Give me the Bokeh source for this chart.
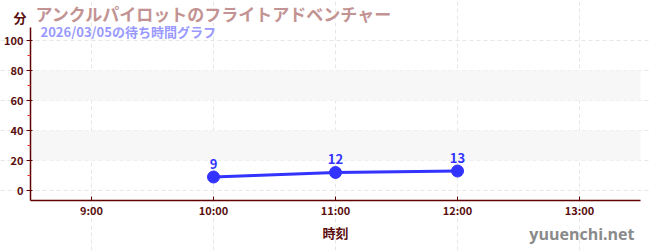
from bokeh.plotting import figure
from bokeh.models import Range1d, FixedTicker, Label, BoxAnnotation, ColumnDataSource
from bokeh.core.properties import value
from bokeh.embed import file_html
from bokeh.resources import INLINE

# data
hours = [10, 11, 12]
waits = [9, 12, 13]
x_ticks = [9, 10, 11, 12, 13]
x_tick_labels = ["9:00", "10:00", "11:00", "12:00", "13:00"]
y_ticks = [0, 20, 40, 60, 80, 100]
y_minor = [10, 30, 50, 70, 90]
bands = [(20, 40), (60, 80)]
title_text = "アンクルパイロットのフライトアドベンチャー"
subtitle_text = "2026/03/05の待ち時間グラフ"
unit_text = "分"
xlabel_text = "時刻"
mark_text = "yuuenchi.net"

FONT = "Noto Sans CJK JP"
MAROON = "#5a0f0f"
AXIS = "#600000"

# plot area spans x 8.5..13.5 and y -6.67..106.67; the frame covers the whole canvas
X0, X1 = 8.5, 13.5
Y0, Y1 = -6.667, 106.667
pxx = 122.0   # px per hour
pxy = 1.5     # px per minute
p = figure(width=650, height=250, output_backend="svg", toolbar_location=None,
           x_range=Range1d(X0 - 30 / pxx, X1 + 10 / pxx),
           y_range=Range1d(Y0 - 50 / pxy, Y1 + 30 / pxy),
           min_border=0, min_border_left=0, min_border_right=0,
           min_border_top=0, min_border_bottom=0)
p.outline_line_color = None
p.background_fill_color = "white"
p.border_fill_color = "white"

for lo, hi in bands:
    p.add_layout(BoxAnnotation(left=X0, right=X1, bottom=lo, top=hi, fill_color="#f7f7f7",
                               fill_alpha=1.0, line_color=None, level="underlay"))

p.xgrid.ticker = FixedTicker(ticks=x_ticks)
p.ygrid.ticker = FixedTicker(ticks=y_ticks)
p.xgrid.bounds = (Y0, Y1)
p.ygrid.bounds = (X0, X1)
for g in (p.xgrid, p.ygrid):
    g.grid_line_color = "#e6e6e6"
    g.grid_line_dash = "4 3"
    g.grid_line_width = 1

xa = p.xaxis[0]
xa.fixed_location = Y0
xa.bounds = (X0, X1)
xa.ticker = FixedTicker(ticks=x_ticks)
xa.major_label_overrides = {t: l for t, l in zip(x_ticks, x_tick_labels)}
xa.axis_label = xlabel_text
xa.axis_label_text_font = FONT
xa.axis_label_text_font_style = "bold"
xa.axis_label_text_font_size = "13px"
xa.axis_label_text_color = MAROON
xa.axis_label_standoff = 2
xa.major_label_standoff = 1
xa.major_label_text_font = FONT
xa.major_label_text_font_style = "bold"
xa.major_label_text_font_size = "11px"
xa.major_label_text_color = MAROON
xa.axis_line_color = AXIS
xa.axis_line_width = 1.5
xa.major_tick_line_color = AXIS
xa.major_tick_in = 4
xa.major_tick_out = 0
xa.minor_tick_line_color = None

ya = p.yaxis[0]
ya.fixed_location = X0
ya.bounds = (Y0, Y1 + 2)
ya.ticker = FixedTicker(ticks=y_ticks, minor_ticks=y_minor)
ya.major_label_text_font = FONT
ya.major_label_text_font_style = "bold"
ya.major_label_text_font_size = "11px"
ya.major_label_text_color = MAROON
ya.axis_line_color = AXIS
ya.axis_line_width = 1.5
ya.major_tick_line_color = AXIS
ya.major_tick_in = 2
ya.major_tick_out = 4
ya.minor_tick_line_color = "#e03030"
ya.minor_tick_in = 0
ya.minor_tick_out = 3
ya.major_label_standoff = 3

src = ColumnDataSource(dict(x=hours, y=waits, t=[str(v) for v in waits]))
p.line("x", "y", source=src, line_color="#3333ff", line_width=3)
p.scatter("x", "y", source=src, size=12, fill_color="#3333ff", line_color="#3333ff")
p.text("x", "y", text="t", source=src, text_font=value(FONT), text_font_style="bold",
       text_font_size="13px", text_color="#3333ff", text_align="center",
       text_baseline="bottom", y_offset=-8)

# screen units: measured from the canvas' bottom-left corner (frame == canvas)
def lab(x, y, text, size, color, bold=True, align="left", font=FONT):
    p.add_layout(Label(x=x, y=y, x_units="screen", y_units="screen", text=text,
                       text_font=font, text_font_size=size, text_color=color,
                       text_font_style="bold" if bold else "normal",
                       text_align=align, text_baseline="middle"))

lab(35, 237, title_text, "17px", "#c39393")
lab(40, 219, subtitle_text, "13px", "#9999ff")
lab(26, 233, unit_text, "13px", MAROON, align="right")
lab(634, 17, mark_text, "16px", "#8a8a8a", bold=True, align="right", font="Open Sans")

open("out.html", "w").write(file_html(p, INLINE))
